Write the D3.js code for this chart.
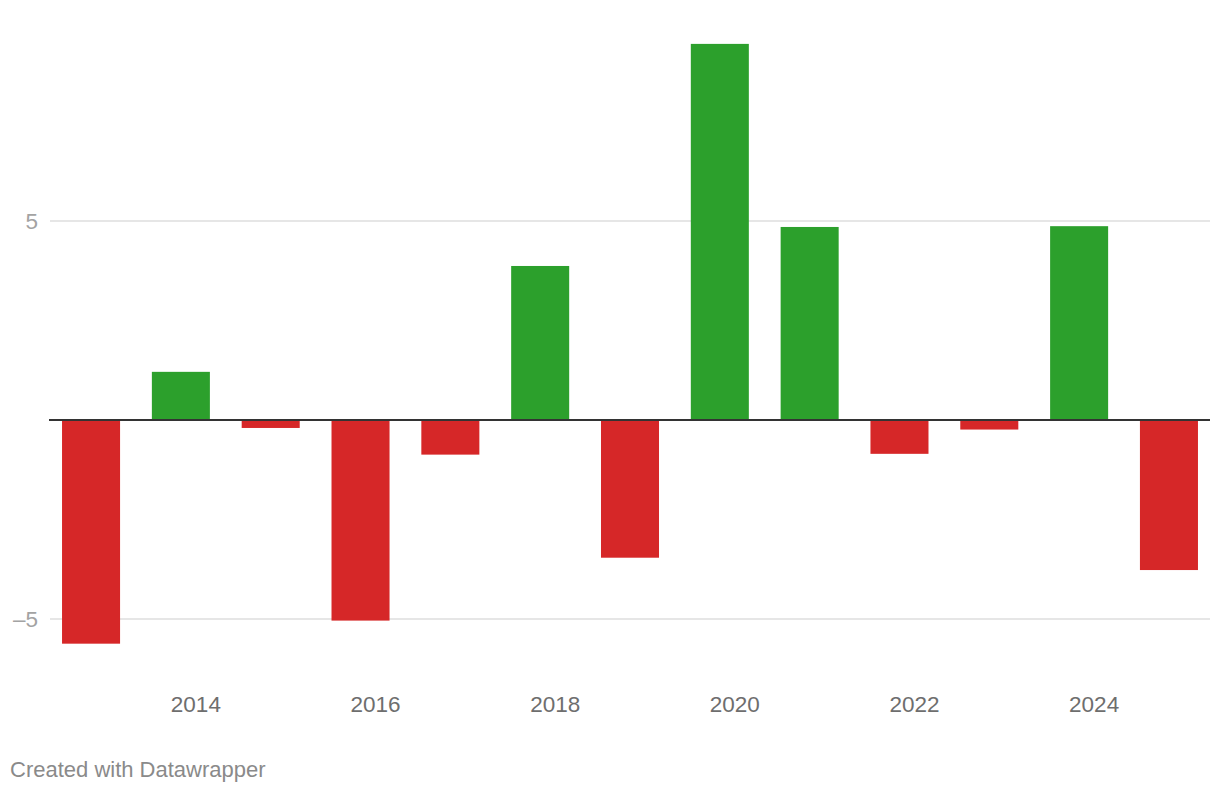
<!DOCTYPE html>
<html>
<head>
<meta charset="utf-8">
<script src="https://cdn.jsdelivr.net/npm/d3@7"></script>
<style>
  html, body { margin: 0; padding: 0; background: #fff; }
  svg { display: block; font-family: "Liberation Sans", Arial, Helvetica, sans-serif; }
</style>
</head>
<body>
<svg id="chart" width="1220" height="792"></svg>
<script>
const years = [2013, 2014, 2015, 2016, 2017, 2018, 2019, 2020, 2021, 2022, 2023, 2024, 2025];
const values = [-5.62, 1.21, -0.2, -5.04, -0.87, 3.87, -3.46, 9.45, 4.85, -0.85, -0.24, 4.87, -3.77];
const yTicks = [-5, 5];
const xTickLabels = [2014, 2016, 2018, 2020, 2022, 2024];
const footerText = "Created with Datawrapper";

const svg = d3.select("#chart");

const x = d3.scaleBand()
  .domain(years)
  .range([50, 1210])
  .paddingInner(0.354)
  .paddingOuter(0.134);

const y = d3.scaleLinear()
  .domain([-5, 5])
  .range([619, 221]);

// gridlines
svg.append("g")
  .selectAll("line")
  .data(yTicks)
  .join("line")
  .attr("x1", 50).attr("x2", 1210)
  .attr("y1", d => y(d)).attr("y2", d => y(d))
  .attr("stroke", "#e6e6e6")
  .attr("stroke-width", 2);

// y labels
svg.append("g")
  .selectAll("text")
  .data(yTicks)
  .join("text")
  .attr("x", 38)
  .attr("y", d => y(d))
  .attr("dy", "0.36em")
  .attr("text-anchor", "end")
  .attr("font-size", 22.5)
  .attr("fill", "#a3a3a3")
  .text(d => d < 0 ? "\u2013" + Math.abs(d) : d);

// bars
svg.append("g")
  .selectAll("rect")
  .data(years.map((yr, i) => ({ yr, v: values[i] })))
  .join("rect")
  .attr("x", d => x(d.yr))
  .attr("width", x.bandwidth())
  .attr("y", d => d.v >= 0 ? y(d.v) : y(0))
  .attr("height", d => Math.abs(y(d.v) - y(0)))
  .attr("fill", d => d.v >= 0 ? "#2ca02c" : "#d62728");

// zero line
svg.append("line")
  .attr("x1", 49).attr("x2", 1210)
  .attr("y1", y(0)).attr("y2", y(0))
  .attr("stroke", "#333333")
  .attr("stroke-width", 2);

// x labels (offset slightly right of the bar centre, as in the original)
svg.append("g")
  .selectAll("text")
  .data(xTickLabels)
  .join("text")
  .attr("x", d => x(d) + x.bandwidth() / 2 + 15)
  .attr("y", 712)
  .attr("text-anchor", "middle")
  .attr("font-size", 22.5)
  .attr("fill", "#6e6e6e")
  .text(d => d);

// footer
svg.append("text")
  .attr("x", 10)
  .attr("y", 777)
  .attr("font-size", 22)
  .attr("fill", "#8a8a8a")
  .text(footerText);
</script>
</body>
</html>
